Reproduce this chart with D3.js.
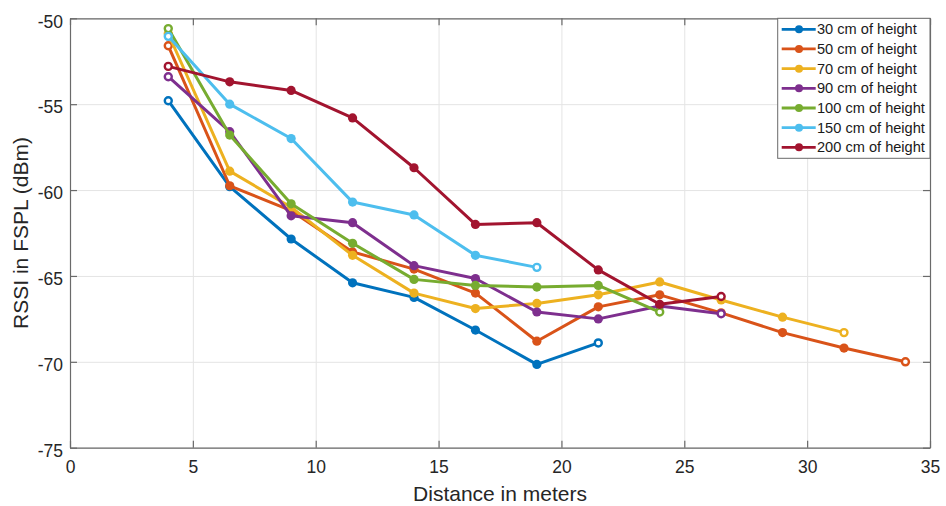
<!DOCTYPE html>
<html>
<head>
<meta charset="utf-8">
<script src="https://cdn.jsdelivr.net/npm/d3@7"></script>
<style>
  html, body { margin: 0; padding: 0; background: #fff; }
  svg { display: block; font-family: "Liberation Sans", Arial, Helvetica, sans-serif; }
</style>
</head>
<body>
<svg id="chart" width="946" height="506"></svg>
<script>
// ---- data ----
const distances = [4, 6.5, 9, 11.5, 14, 16.5, 19, 21.5, 24, 26.5, 29, 31.5, 34];
const seriesNames = ["30 cm of height", "50 cm of height", "70 cm of height", "90 cm of height",
                     "100 cm of height", "150 cm of height", "200 cm of height"];
const rssi30  = [-54.8, -59.8, -62.85, -65.4, -66.25, -68.15, -70.15, -68.9];
const rssi50  = [-51.6, -59.75, -61.2, -63.6, -64.6, -66.0, -68.8, -66.8, -66.1, -67.15, -68.3, -69.2, -70.0];
const rssi70  = [-50.9, -58.9, -61.0, -63.8, -66.0, -66.9, -66.6, -66.1, -65.35, -66.4, -67.4, -68.3];
const rssi90  = [-53.4, -56.6, -61.5, -61.9, -64.4, -65.15, -67.1, -67.5, -66.75, -67.2];
const rssi100 = [-50.6, -56.8, -60.8, -63.1, -65.2, -65.55, -65.65, -65.55, -67.1];
const rssi150 = [-51.05, -55.0, -57.0, -60.7, -61.45, -63.8, -64.5];
const rssi200 = [-52.8, -53.7, -54.2, -55.8, -58.7, -62.0, -61.9, -64.65, -66.65, -66.2];
const allSeries = [rssi30, rssi50, rssi70, rssi90, rssi100, rssi150, rssi200];
const colors = ["#0072BD", "#D95319", "#EDB120", "#7E2F8E", "#77AC30", "#4DBEEE", "#A2142F"];
const xTicks = [0, 5, 10, 15, 20, 25, 30, 35];
const yTicks = [-75, -70, -65, -60, -55, -50];

// ---- layout ----
const svg = d3.select("#chart");
const L = 70, T = 18.3, R = 930, B = 447.7;
const W = R - L, H = B - T;
const x = d3.scaleLinear().domain([0, 35]).range([L, R]);
const y = d3.scaleLinear().domain([-75, -50]).range([B, T]);
const axisColor = "#6a6a6a";
const fmt = d => String(d); // ASCII hyphen-minus like the reference

// grid
svg.append("g").attr("transform", `translate(0,${B})`)
  .call(d3.axisBottom(x).tickValues(xTicks).tickSize(-H).tickFormat(""))
  .call(g => g.select(".domain").remove())
  .call(g => g.selectAll("line").attr("stroke", "#e4e4e4").attr("stroke-width", 1));
svg.append("g").attr("transform", `translate(${L},0)`)
  .call(d3.axisLeft(y).tickValues(yTicks).tickSize(-W).tickFormat(""))
  .call(g => g.select(".domain").remove())
  .call(g => g.selectAll("line").attr("stroke", "#e4e4e4").attr("stroke-width", 1));

// axes (box with inner ticks)
function styleAxis(g) {
  g.select(".domain").attr("stroke", axisColor).attr("stroke-width", 1.2);
  g.selectAll(".tick line").attr("stroke", axisColor).attr("stroke-width", 1.2);
  g.selectAll("text").attr("fill", "#262626").attr("font-size", 17.5)
    .attr("font-family", "'Liberation Sans', Arial, sans-serif");
}
svg.append("g").attr("transform", `translate(0,${B})`)
  .call(d3.axisBottom(x).tickValues(xTicks).tickFormat(fmt).tickSize(-7).tickSizeOuter(0).tickPadding(13))
  .call(styleAxis);
svg.append("g").attr("transform", `translate(0,${T})`)
  .call(d3.axisTop(x).tickValues(xTicks).tickSize(-7).tickSizeOuter(0).tickFormat(""))
  .call(styleAxis);
svg.append("g").attr("transform", `translate(${L},0)`)
  .call(d3.axisLeft(y).tickValues(yTicks).tickFormat(fmt).tickSize(-7).tickSizeOuter(0).tickPadding(7))
  .call(styleAxis)
  .call(g => g.selectAll("text").attr("dy", "0.5em"));
svg.append("g").attr("transform", `translate(${R},0)`)
  .call(d3.axisRight(y).tickValues(yTicks).tickSize(-7).tickSizeOuter(0).tickFormat(""))
  .call(styleAxis);

// axis labels
svg.append("text").attr("x", (L + R) / 2).attr("y", 501)
  .attr("text-anchor", "middle").attr("font-size", 21).attr("fill", "#262626")
  .text("Distance in meters");
svg.append("text").attr("transform", `translate(28,${(T + B) / 2}) rotate(-90)`)
  .attr("text-anchor", "middle").attr("font-size", 21).attr("fill", "#262626")
  .text("RSSI in FSPL (dBm)");

// series
const line = d3.line().x((d, i) => x(distances[i])).y(d => y(d));
allSeries.forEach((vals, si) => {
  const g = svg.append("g");
  g.append("path").attr("d", line(vals)).attr("fill", "none")
    .attr("stroke", colors[si]).attr("stroke-width", 3).attr("stroke-linejoin", "round");
  g.selectAll("circle").data(vals).join("circle")
    .attr("cx", (d, i) => x(distances[i])).attr("cy", d => y(d))
    .attr("r", (d, i) => (i === 0 || i === vals.length - 1) ? 3.5 : 4.6)
    .attr("fill", (d, i) => (i === 0 || i === vals.length - 1) ? "#fff" : colors[si])
    .attr("stroke", colors[si])
    .attr("stroke-width", (d, i) => (i === 0 || i === vals.length - 1) ? 2.4 : 0);
});

// legend
const lg = svg.append("g");
lg.append("rect").attr("x", 777.7).attr("y", T).attr("width", R - 777.7).attr("height", 158.3 - T)
  .attr("fill", "#fff").attr("stroke", axisColor).attr("stroke-width", 1);
seriesNames.forEach((name, i) => {
  const cy = 29.3 + i * 19.67;
  lg.append("line").attr("x1", 781.7).attr("x2", 815.7).attr("y1", cy).attr("y2", cy)
    .attr("stroke", colors[i]).attr("stroke-width", 2.8);
  lg.append("circle").attr("cx", 799).attr("cy", cy).attr("r", 4).attr("fill", colors[i]);
  lg.append("text").attr("x", 817).attr("y", cy + 5).attr("font-size", 14.6)
    .attr("fill", "#1a1a1a").text(name);
});
</script>
</body>
</html>
